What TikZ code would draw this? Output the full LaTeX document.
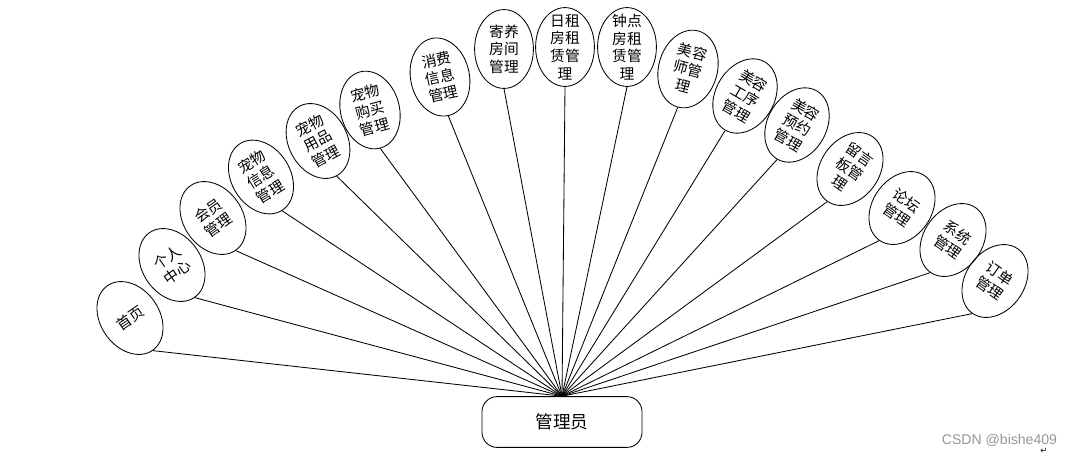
\documentclass[tikz,border=0pt]{standalone}
\usepackage{fontspec}
\setmainfont{Noto Sans CJK SC}
\newfontfamily\symfont{DejaVu Sans}
\newfontfamily\markfont{Liberation Sans}
\usepackage{tikz}
\usetikzlibrary{shapes.geometric, positioning}
\definecolor{markgray}{RGB}{150,150,150}

\tikzset{
  module/.style={draw, ellipse, line width=0.6pt, minimum width=1.47cm, minimum height=1.97cm,
    inner sep=0pt},
  modtext/.style={inner sep=0pt, align=center, font=\fontsize{10.5}{12.5}\selectfont},
  rolebox/.style={draw, line width=0.6pt, rounded corners=0.38cm, minimum width=4cm,
    minimum height=1.27cm, font=\fontsize{12.5}{14}\selectfont},
  link/.style={line width=0.6pt}
}

\begin{document}
\begin{tikzpicture}[x=0.025cm, y=-0.025cm]
  \useasboundingbox (0,0) rectangle (1076,455);

  % Role at the bottom
  \node[rolebox] (admin) at (562,422) {管理员};
  \coordinate (hub) at (admin.north);

  % Modules in a fan, each linked to the role
  \foreach \x/\y/\r/\t [count=\i] in {
      130/318/35/{首页},
      172/265/35/{个人\\中心},
      213/218/35/{会员\\管理},
      261/177/32/{宠物\\信息\\管理},
      318/141/28/{宠物\\用品\\管理},
      370/110/15/{宠物\\购买\\管理},
      440/77/12/{消费\\信息\\管理},
      504/49/0/{寄养\\房间\\管理},
      565/47/0/{日租\\房租\\赁管\\理},
      627/47/0/{钟点\\房租\\赁管\\理},
      688/69/-15/{美容\\师管\\理},
      745/96/-30/{美容\\工序\\管理},
      797/125/-30/{美容\\预约\\管理},
      850/169/-35/{留言\\板管\\理},
      902/208/-35/{论坛\\管理},
      953/240/-35/{系统\\管理},
      995/281/-35/{订单\\管理}}{
    \node[module, rotate=\r] (m\i) at (\x,\y) {};
    \node[modtext, rotate=\r] (t\i) at (m\i.center) {\t};
    \draw[link] (m\i.south) -- (hub);
  }

  % Watermark
  \node[text=markgray, font=\markfont\fontsize{10}{12}\selectfont, anchor=east] (mark) at (1062,440) {CSDN @bishe409};
  \node[font=\symfont\fontsize{6}{7}\selectfont] (ret) at (1044,451) {↵};

\end{tikzpicture}
\end{document}
